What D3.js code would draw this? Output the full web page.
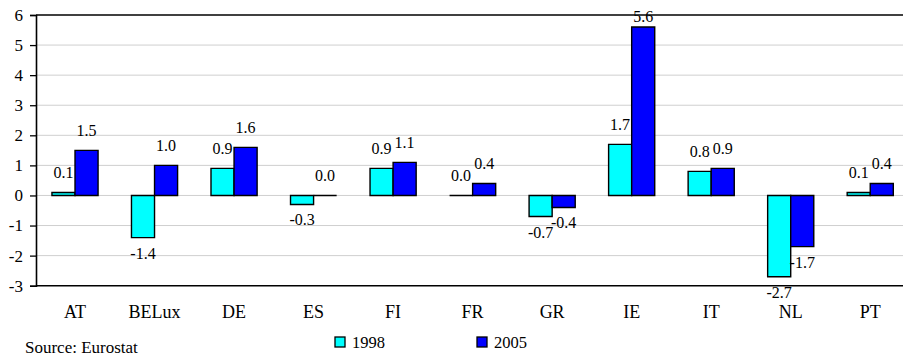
<!DOCTYPE html>
<html>
<head>
<meta charset="utf-8">
<script src="https://cdn.jsdelivr.net/npm/d3@7"></script>
<style>
  html, body { margin: 0; padding: 0; background: #fff; }
  svg { display: block; }
  svg text { font-family: "Liberation Serif", "Times New Roman", serif !important; fill: #000; }
</style>
</head>
<body>
<svg id="chart" width="903" height="358"></svg>
<script>
// Countries and the two observation years
const categories = ["AT", "BELux", "DE", "ES", "FI", "FR", "GR", "IE", "IT", "NL", "PT"];
const seriesNames = ["1998", "2005"];
const values1998 = [0.1, -1.4, 0.9, -0.3, 0.9, 0.0, -0.7, 1.7, 0.8, -2.7, 0.1];
const values2005 = [1.5, 1.0, 1.6, 0.0, 1.1, 0.4, -0.4, 5.6, 0.9, -1.7, 0.4];
const yTicks = [-3, -2, -1, 0, 1, 2, 3, 4, 5, 6];
const sourceNote = "Source: Eurostat";

const colors = { "1998": "#00ffff", "2005": "#0000ff" };

// Plain hyphen for negatives, as in the printed table
const fmtValue = v => d3.format(".1f")(v).replace("\u2212", "-");
const fmtTick = v => d3.format("d")(v).replace("\u2212", "-");

const svg = d3.select("#chart");
const plot = { left: 36, right: 910, top: 15, bottom: 285.7 };

const x = d3.scaleBand()
  .domain(categories)
  .range([plot.left - 0.75, plot.right])
  .paddingInner(0.42)
  .paddingOuter(0.21);

const xSub = d3.scaleBand()
  .domain(seriesNames)
  .range([0, x.bandwidth()]);

const y = d3.scaleLinear()
  .domain([-3, 6])
  .range([plot.bottom, plot.top]);

// Horizontal gridlines
svg.append("g")
  .selectAll("line")
  .data(yTicks.filter(t => t > -3 && t < 6))
  .join("line")
  .attr("x1", plot.left)
  .attr("x2", plot.right)
  .attr("y1", d => y(d))
  .attr("y2", d => y(d))
  .attr("stroke", "#cfcfcf")
  .attr("stroke-width", 1);

// Left axis with outward ticks
const yAxis = d3.axisLeft(y)
  .tickValues(yTicks)
  .tickSize(6)
  .tickPadding(7)
  .tickFormat(fmtTick);

const gy = svg.append("g")
  .attr("transform", `translate(${plot.left},0)`)
  .call(yAxis)
  .attr("font-family", null)
  .attr("font-size", null);
gy.select(".domain").attr("stroke", "#000").attr("stroke-width", 1.6);
gy.selectAll(".tick line").attr("stroke", "#000").attr("stroke-width", 1.3);
gy.selectAll(".tick text")
  .style("font-size", "17px")
  .attr("fill", "#000");

// Top and bottom borders of the plot area
[6, -3].forEach(v => {
  svg.append("line")
    .attr("x1", plot.left)
    .attr("x2", plot.right)
    .attr("y1", y(v))
    .attr("y2", y(v))
    .attr("stroke", "#000")
    .attr("stroke-width", 1.6);
});

// Bars
const rows = categories.map((c, i) => ({
  category: c,
  items: [
    { series: "1998", value: values1998[i] },
    { series: "2005", value: values2005[i] }
  ]
}));

const groups = svg.append("g")
  .selectAll("g")
  .data(rows)
  .join("g")
  .attr("transform", d => `translate(${x(d.category)},0)`);

// Drawn as closed paths so that zero-valued bars still show their outline
groups.selectAll("path")
  .data(d => d.items)
  .join("path")
  .attr("d", d => {
    const x0 = xSub(d.series);
    const w = xSub.bandwidth();
    const yTop = y(Math.max(0, d.value));
    const h = Math.abs(y(d.value) - y(0));
    return `M${x0},${yTop}h${w}v${h}h${-w}Z`;
  })
  .attr("fill", d => colors[d.series])
  .attr("stroke", "#000")
  .attr("stroke-width", 1.4);

// Value labels above positive bars, below negative ones
groups.selectAll("text.value")
  .data(d => d.items)
  .join("text")
  .attr("class", "value")
  .attr("x", d => xSub(d.series) + xSub.bandwidth() / 2)
  .attr("y", d => d.value >= 0
    ? Math.max(22, y(d.value) - 14)
    : y(d.value) + 21)
  .attr("text-anchor", "middle")
  .style("font-size", "16px")
  .text(d => fmtValue(d.value));

// Category labels
svg.append("g")
  .selectAll("text")
  .data(categories)
  .join("text")
  .attr("x", d => x(d) + x.bandwidth() / 2)
  .attr("y", 318)
  .attr("text-anchor", "middle")
  .style("font-size", "18px")
  .text(d => d);

// Legend
const legend = svg.append("g");
const legendX = { "1998": 335, "2005": 477 };
seriesNames.forEach(s => {
  legend.append("rect")
    .attr("x", legendX[s])
    .attr("y", 337)
    .attr("width", 10)
    .attr("height", 10)
    .attr("fill", colors[s])
    .attr("stroke", "#000")
    .attr("stroke-width", 1.3);
  legend.append("text")
    .attr("x", legendX[s] + 17)
    .attr("y", 348)
    .style("font-size", "16.5px")
    .text(s);
});

// Source note
svg.append("text")
  .attr("x", 25)
  .attr("y", 353)
  .style("font-size", "17px")
  .text(sourceNote);
</script>
</body>
</html>
